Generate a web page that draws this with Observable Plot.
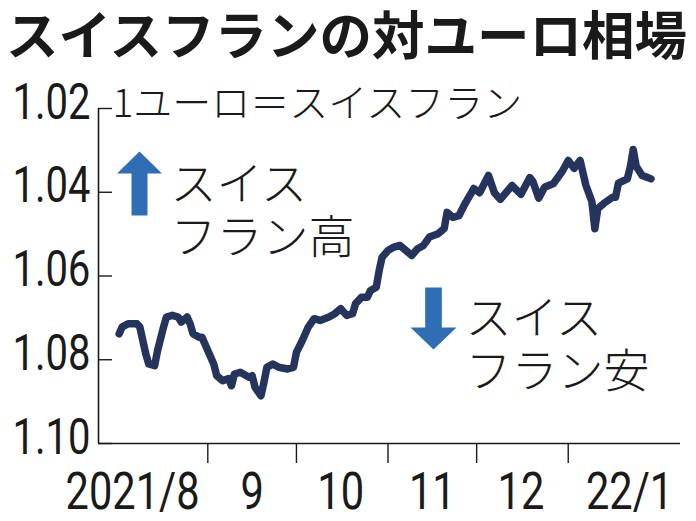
<!DOCTYPE html>
<html><head><meta charset="utf-8">
<script src="https://cdn.jsdelivr.net/npm/d3@7"></script>
<script src="https://cdn.jsdelivr.net/npm/@observablehq/plot@0.6"></script>
<style>
body{margin:0;background:#fff;width:696px;height:521px;overflow:hidden}
#title{font-family:"Noto Sans CJK JP";font-weight:700;font-size:52.5px;line-height:64px;height:70px;padding-left:6px;color:#1a1a1a;white-space:nowrap}
#chart svg{display:block}
</style></head><body>
<div id="title">スイスフランの対ユーロ相場</div>
<div id="chart"></div>
<script>
const dates = ["2021-08-02","2021-08-03","2021-08-05","2021-08-08","2021-08-09","2021-08-11","2021-08-12","2021-08-14","2021-08-15","2021-08-17","2021-08-18","2021-08-20","2021-08-22","2021-08-23","2021-08-25","2021-08-26","2021-08-27","2021-08-29","2021-08-30","2021-09-01","2021-09-03","2021-09-04","2021-09-06","2021-09-08","2021-09-09","2021-09-10","2021-09-12","2021-09-13","2021-09-15","2021-09-16","2021-09-17","2021-09-19","2021-09-20","2021-09-21","2021-09-23","2021-09-25","2021-09-28","2021-09-30","2021-10-01","2021-10-03","2021-10-05","2021-10-07","2021-10-09","2021-10-12","2021-10-14","2021-10-16","2021-10-18","2021-10-20","2021-10-21","2021-10-23","2021-10-25","2021-10-26","2021-10-28","2021-10-29","2021-10-30","2021-11-01","2021-11-03","2021-11-05","2021-11-08","2021-11-09","2021-11-11","2021-11-13","2021-11-15","2021-11-18","2021-11-20","2021-11-21","2021-11-23","2021-11-25","2021-11-27","2021-11-29","2021-11-30","2021-12-02","2021-12-05","2021-12-07","2021-12-09","2021-12-13","2021-12-16","2021-12-19","2021-12-20","2021-12-22","2021-12-24","2021-12-27","2021-12-30","2022-01-01","2022-01-03","2022-01-05","2022-01-07","2022-01-09","2022-01-10","2022-01-11","2022-01-13","2022-01-16","2022-01-17","2022-01-18","2022-01-21","2022-01-22","2022-01-23","2022-01-24","2022-01-26","2022-01-28","2022-01-29"];
const rates = [1.0738,1.0722,1.0714,1.0714,1.0722,1.0786,1.0810,1.0814,1.0778,1.0722,1.0698,1.0694,1.0698,1.0710,1.0698,1.0714,1.0738,1.0746,1.0746,1.0778,1.0810,1.0838,1.0850,1.0845,1.0862,1.0834,1.0830,1.0834,1.0842,1.0838,1.0866,1.0886,1.0854,1.0818,1.0810,1.0818,1.0822,1.0818,1.0782,1.0754,1.0722,1.0702,1.0706,1.0698,1.0690,1.0678,1.0694,1.0690,1.0666,1.0651,1.0651,1.0635,1.0627,1.0587,1.0555,1.0539,1.0531,1.0527,1.0545,1.0551,1.0535,1.0527,1.0507,1.0499,1.0487,1.0448,1.0460,1.0456,1.0428,1.0404,1.0391,1.0401,1.0360,1.0401,1.0417,1.0384,1.0405,1.0365,1.0374,1.0414,1.0388,1.0379,1.0350,1.0324,1.0343,1.0324,1.0384,1.0422,1.0487,1.0439,1.0427,1.0412,1.0412,1.0378,1.0368,1.0340,1.0298,1.0338,1.0360,1.0365,1.0368];
const yTicks = [1.02, 1.04, 1.06, 1.08, 1.10];
const xDomain = ["2021-07-26", "2022-02-08"];
const monthStarts = ["2021-08-01","2021-09-01","2021-10-01","2021-11-01","2021-12-01","2022-01-01"];
const monthLabels = ["2021/8","9","10","11","12","22/1"];
const unitNote = "1ユーロ＝スイスフラン";
const upNote = "スイス\nフラン高";
const downNote = "スイス\nフラン安";

const series = dates.map((d, i) => ({date: new Date(d), rate: rates[i]}));
const months = monthStarts.map((d, i) => ({start: new Date(d), mid: d3.utcDay.offset(new Date(d), 15), label: monthLabels[i]}));
const tickDates = months.slice(1).map(m => m.start);

const arrowUp = {draw(ctx) {
  ctx.moveTo(0, -32); ctx.lineTo(22.5, -10); ctx.lineTo(8, -10); ctx.lineTo(8, 32);
  ctx.lineTo(-8, 32); ctx.lineTo(-8, -10); ctx.lineTo(-22.5, -10); ctx.closePath();
}};
const arrowDown = {draw(ctx) {
  ctx.moveTo(0, 31); ctx.lineTo(23, 9); ctx.lineTo(8.3, 9); ctx.lineTo(8.3, -31);
  ctx.lineTo(-8.3, -31); ctx.lineTo(-8.3, 9); ctx.lineTo(-23, 9); ctx.closePath();
}};

const tickFont = "Roboto, sans-serif";
const jpFont = "'Noto Sans CJK JP',sans-serif";
const ink = "#1a1a1a";
const blue = "#2f6eb5";

const chart = Plot.plot({
  width: 696,
  height: 451,
  marginTop: 38,
  marginBottom: 78,
  marginLeft: 98,
  marginRight: 16,
  style: {background: "white", overflow: "visible"},
  x: {type: "utc", domain: xDomain.map(d => new Date(d))},
  y: {domain: [1.02, 1.10], reverse: true},
  marks: [
    Plot.axisY({ticks: yTicks, tickSize: -14, tickFormat: () => "", label: null, stroke: ink, strokeWidth: 1.4}),
    Plot.axisY({ticks: yTicks, tickSize: 0, tickPadding: 8, dy: -6, tickFormat: d3.format(".2f"), label: null,
      fontFamily: tickFont, fontSize: 50, fill: ink}),
    Plot.axisX({ticks: tickDates, tickSize: 20, tickFormat: () => "", label: null, stroke: ink, strokeWidth: 1.4}),
    Plot.text(months.slice(1, 5), {x: "mid", text: "label", frameAnchor: "bottom", lineAnchor: "bottom", dy: 65,
      fontFamily: tickFont, fontSize: 52, fill: ink}),
    Plot.text(months.slice(0, 1), {x: "mid", text: "label", frameAnchor: "bottom", lineAnchor: "bottom", dy: 65, dx: -28,
      fontFamily: tickFont, fontSize: 52, fill: ink}),
    Plot.text(months.slice(5), {x: "mid", text: "label", frameAnchor: "bottom", lineAnchor: "bottom", dy: 65, dx: 17,
      fontFamily: tickFont, fontSize: 52, fill: ink}),
    Plot.ruleX([new Date(xDomain[0])], {stroke: ink, strokeWidth: 1.6}),
    Plot.ruleY([1.10], {stroke: ink, strokeWidth: 1.6}),
    Plot.text([unitNote], {frameAnchor: "top-left", dx: 14, dy: 8, textAnchor: "start", lineAnchor: "bottom",
      fontFamily: jpFont, fontWeight: 300, fontSize: 39, fill: ink}),
    Plot.dot([0], {frameAnchor: "top-left", dx: 41, dy: 75, symbol: arrowUp, fill: blue, stroke: null}),
    Plot.text([upNote], {frameAnchor: "top-left", dx: 72, dy: 144, textAnchor: "start", lineAnchor: "bottom",
      lineHeight: 1.15, fontFamily: jpFont, fontWeight: 300, fontSize: 46, fill: ink}),
    Plot.dot([0], {frameAnchor: "top-left", dx: 335, dy: 210, symbol: arrowDown, fill: blue, stroke: null}),
    Plot.text([downNote], {frameAnchor: "top-left", dx: 367, dy: 278, textAnchor: "start", lineAnchor: "bottom",
      lineHeight: 1.15, fontFamily: jpFont, fontWeight: 300, fontSize: 46, fill: ink}),
    Plot.line(series, {x: "date", y: "rate", stroke: "#25345c", strokeWidth: 7.5, strokeLinejoin: "round", strokeLinecap: "round"})
  ]
});
document.getElementById("chart").appendChild(chart);
// condense the tick-label digits (narrow grotesque look of the original)
chart.querySelectorAll('g[font-family*="Roboto"] text').forEach(t => {
  const w = t.getComputedTextLength();
  if (w > 0) {
    t.setAttribute("textLength", (w * 0.8).toFixed(1));
    t.setAttribute("lengthAdjust", "spacingAndGlyphs");
  }
});
</script>
</body></html>
